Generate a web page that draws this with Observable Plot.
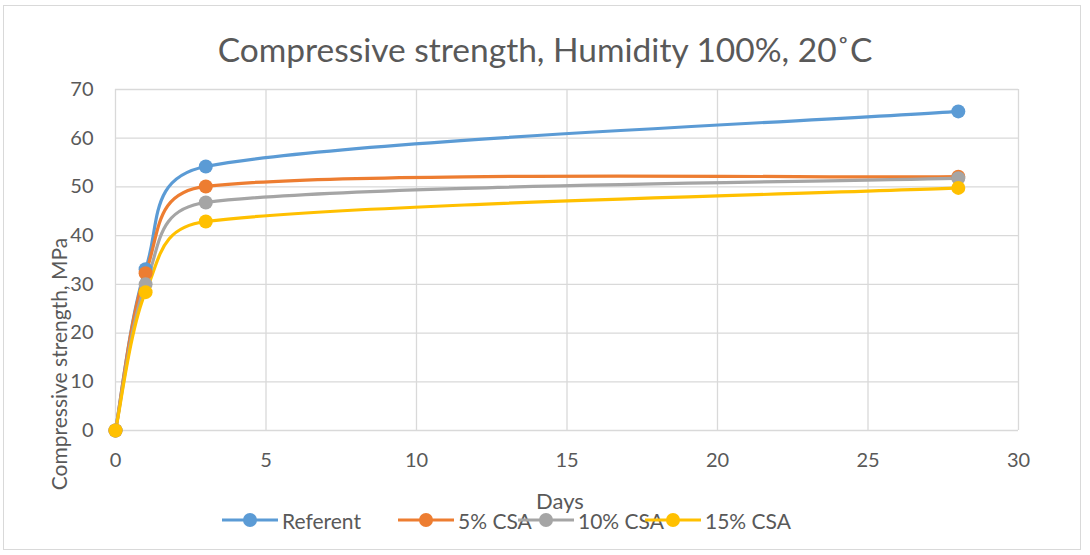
<!DOCTYPE html>
<html><head><meta charset="utf-8">
<script src="https://cdn.jsdelivr.net/npm/d3@7"></script>
<script src="https://cdn.jsdelivr.net/npm/@observablehq/plot@0.6"></script>
<style>
body{margin:0;background:#fff;font-family:Lato,"Open Sans",sans-serif;}
#wrap{position:relative;width:1090px;height:555px;overflow:hidden;}
#frame{position:absolute;left:3px;top:5px;width:1076px;height:543px;border:1px solid #d9d9d9;}
#title{position:absolute;left:0;top:29px;width:1090px;text-align:center;font-size:33.5px;color:#595959;line-height:40px;}
#chart{position:absolute;left:0;top:70px;}
#ylabel{position:absolute;left:58px;top:364px;transform:translate(-50%,-50%) rotate(-90deg);white-space:nowrap;font-size:21px;color:#595959;}
#xlabel{position:absolute;left:560px;top:500px;transform:translate(-50%,-50%);font-size:22px;color:#595959;}
#legend{position:absolute;left:0;top:507px;width:1090px;height:26px;}
.item{position:absolute;top:0;display:flex;align-items:center;font-size:21px;color:#595959;}
</style></head>
<body><div id="wrap"><div id="frame"></div><div id="title">Compressive strength, Humidity 100%, 20˚C</div><div id="chart"></div>
<div id="ylabel">Compressive strength, MPa</div><div id="xlabel">Days</div><div id="legend"></div></div>
<script>
const days = [0, 1, 3, 28];
const seriesNames = ["Referent", "5% CSA", "10% CSA", "15% CSA"];
const referent = [0, 33.1, 54.2, 65.5];
const csa5 = [0, 32.3, 50.1, 52.1];
const csa10 = [0, 30.0, 46.8, 51.8];
const csa15 = [0, 28.4, 42.9, 49.8];
const xTicks = [0, 5, 10, 15, 20, 25, 30];
const yTicks = [0, 10, 20, 30, 40, 50, 60, 70];
const colors = ["#5B9BD5", "#ED7D31", "#A5A5A5", "#FFC000"];

const allValues = [referent, csa5, csa10, csa15];
const data = [];
seriesNames.forEach((s, i) => days.forEach((d, j) => data.push({series: s, day: d, value: allValues[i][j]})));

// Spreadsheet-style smoothed line: cardinal Bezier with control arms limited to half of each adjacent segment
function smoothCurve(context) {
  let pts = [];
  return {
    areaStart() {}, areaEnd() {},
    lineStart() { pts = []; },
    point(x, y) { pts.push([+x, +y]); },
    lineEnd() {
      const n = pts.length;
      if (!n) return;
      context.moveTo(pts[0][0], pts[0][1]);
      if (n === 1) return;
      const dist = (a, b) => Math.hypot(b[0] - a[0], b[1] - a[1]);
      const L = [], R = [];
      for (let i = 0; i < n; i++) {
        const p = pts[i];
        const a = pts[Math.max(0, i - 1)], b = pts[Math.min(n - 1, i + 1)];
        const tx = (b[0] - a[0]) / 6, ty = (b[1] - a[1]) / 6;
        const len = Math.hypot(tx, ty) || 1;
        const ls = i > 0 ? Math.min(1, dist(pts[i - 1], p) / 2 / len) : 0;
        const rs = i < n - 1 ? Math.min(1, dist(p, pts[i + 1]) / 2 / len) : 0;
        L.push([p[0] - tx * ls, p[1] - ty * ls]);
        R.push([p[0] + tx * rs, p[1] + ty * rs]);
      }
      for (let i = 0; i < n - 1; i++) {
        context.bezierCurveTo(R[i][0], R[i][1], L[i + 1][0], L[i + 1][1], pts[i + 1][0], pts[i + 1][1]);
      }
    }
  };
}

const gridColor = "#d9d9d9";
const chart = Plot.plot({
  width: 1090, height: 420,
  marginLeft: 115, marginRight: 72, marginTop: 19, marginBottom: 60,
  style: {fontFamily: "Lato, 'Open Sans', sans-serif", fontSize: "20px", color: "#595959", background: "transparent"},
  x: {domain: [0, 30], ticks: xTicks},
  y: {domain: [0, 70], ticks: yTicks},
  color: {domain: seriesNames, range: colors},
  marks: [
    Plot.gridX(xTicks, {stroke: gridColor, strokeOpacity: 1, strokeWidth: 1.3}),
    Plot.gridY(yTicks, {stroke: gridColor, strokeOpacity: 1, strokeWidth: 1.3}),
    Plot.axisX(xTicks, {tickSize: 0, tickPadding: 22, fill: "#595959", label: null}),
    Plot.axisY(yTicks, {tickSize: 0, tickPadding: 22, fill: "#595959", label: null}),
    Plot.line(data, {x: "day", y: "value", z: "series", stroke: "series", strokeWidth: 3.2, curve: smoothCurve}),
    Plot.dot(data, {x: "day", y: "value", fill: "series", r: 7, stroke: "none"})
  ]
});
document.getElementById("chart").appendChild(chart);

const legendPos = [220, 396, 516, 643];
const legend = document.getElementById("legend");
seriesNames.forEach((s, i) => {
  const item = document.createElement("div");
  item.className = "item";
  item.style.left = legendPos[i] + "px";
  item.innerHTML = `<svg width="60" height="26"><line x1="2" x2="58" y1="13" y2="13" stroke="${colors[i]}" stroke-width="3.2"/><circle cx="30" cy="13" r="7" fill="${colors[i]}"/></svg><span style="margin-left:2px">${s}</span>`;
  legend.appendChild(item);
});
</script></body></html>
